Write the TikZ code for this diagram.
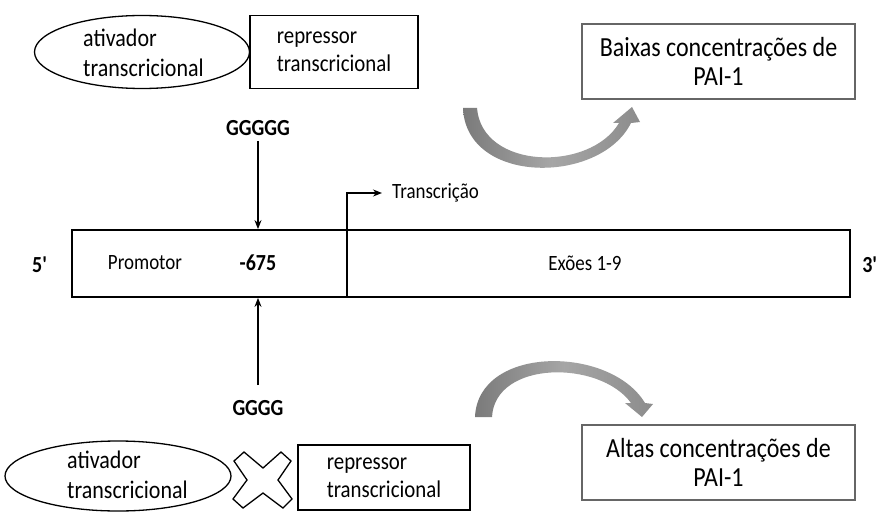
\documentclass[tikz,border=0pt]{standalone}
\usepackage{fontspec}
\setmainfont{Carlito}[FakeStretch=0.87]
\usetikzlibrary{arrows.meta,shapes.geometric}
\begin{document}
\begin{tikzpicture}[x=1pt,y=-1pt,
  lbl/.style={inner sep=0pt},
  ell/.style={draw,ellipse,line width=1.3pt,inner sep=0pt},
  rbox/.style={draw,line width=1.3pt,inner sep=0pt,align=left,font=\fontsize{24}{28}\selectfont},
  gbox/.style={draw=black!60,line width=1.3pt,inner sep=0pt,align=center,font=\fontsize{27.6}{28.5}\selectfont},
  arr/.style={line width=1.2pt,-{Stealth[length=9pt,width=7pt]}},
  curv/.style={left color=black!52,right color=black!45,middle color=black!35,draw=none},
  bold/.style={inner sep=0pt,font=\bfseries\fontsize{23}{26}\selectfont},
  small/.style={inner sep=0pt,font=\fontsize{21.8}{24}\selectfont}
]
\useasboundingbox (0,0) rectangle (885,513);
\fill[white] (0,0) rectangle (885,513);

% top activator / repressor
\node[ell,minimum width=215pt,minimum height=73pt] (act1) at (142,52) {};
\node[lbl,anchor=west,align=left,font=\fontsize{25.3}{30}\selectfont] (act1t) at (83,53) {ativador\\transcricional};
\node[rbox,minimum width=168pt,minimum height=73pt] (rep1) at (334,52) {repressor\\transcricional};

% top result box
\node[gbox,minimum width=273pt,minimum height=75pt] (low) at (718.5,61.5) {Baixas concentrações de\\PAI-1};

% top curved arrow
\path[curv] (463,108) .. controls (466,185) and (600,185) .. (631,123)
  -- (640,122) -- (632,107) -- (613,123) -- (619,123)
  .. controls (590,172) and (482,170) .. (477,108) -- cycle;

% GGGGG
\node[bold] (g5) at (258,128) {GGGGG};

% DNA
\node[draw,line width=1.8pt,minimum width=778pt,minimum height=67pt,inner sep=0pt] (dna) at (461,263.5) {};
\coordinate (divt) at (347,230);
\coordinate (divb) at (347,297);
\draw[line width=1.8pt] (divt) -- (divb);
\node[small,anchor=west] (trans) at (392,193) {Transcrição};
\draw[line width=1.5pt,-{Stealth[length=9pt,width=7pt]}] (divt) |- ([xshift=-10pt]trans.west);
\node[bold] (p5) at (40,265) {5\textquotesingle};
\node[bold] (p3) at (870,265) {3\textquotesingle};
\node[small] (prom) at (145,263) {Promotor};
\node[bold] (m675) at (258,263) {-675};
\node[small] (exo) at (585,263) {Exões 1-9};

\draw[arr] ([yshift=-5pt]g5.south) -- (g5 |- dna.north);

% GGGG
\node[bold] (g4) at (258,408) {GGGG};
\draw[arr] ([yshift=15pt]g4.north) -- (g4 |- dna.south);

% bottom activator / X / repressor
\node[ell,minimum width=226pt,minimum height=70pt] (act2) at (118,476) {};
\node[lbl,anchor=west,align=left,font=\fontsize{25.3}{30}\selectfont] (act2t) at (67,475) {ativador\\transcricional};
\draw[line width=1.3pt,fill=white,line join=miter] (263,468) -- (281,452) -- (291,461) -- (278,480) -- (292,499) -- (283,508)
  -- (263,493) -- (243,508) -- (233,499) -- (247,480) -- (234,461) -- (244,452) -- cycle;
\node[rbox,minimum width=172pt,minimum height=65pt] (rep2) at (384,477.5) {repressor\\transcricional};

% bottom curved arrow
\path[curv] (475,417) .. controls (478,345) and (610,345) .. (645,403)
  -- (653,404) -- (642,417) -- (625,403) -- (631,403)
  .. controls (600,360) and (495,360) .. (492,417) -- cycle;

% bottom result box
\node[gbox,minimum width=273pt,minimum height=75pt] (high) at (718.5,462.5) {Altas concentrações de\\PAI-1};
\end{tikzpicture}
\end{document}
